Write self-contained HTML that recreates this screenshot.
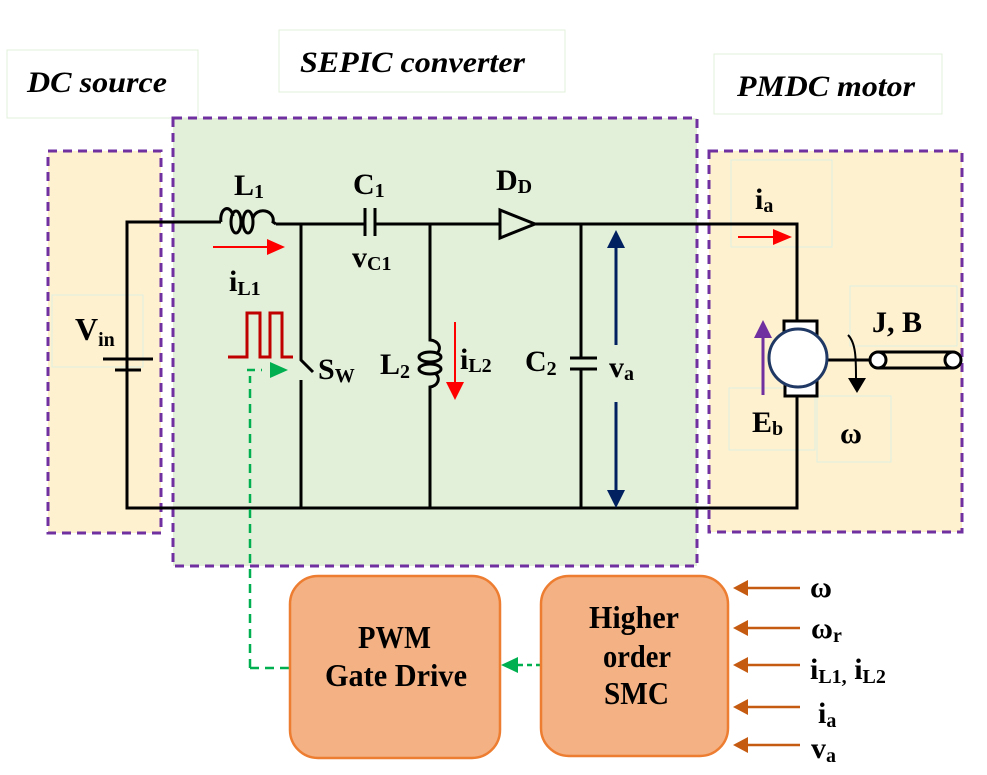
<!DOCTYPE html>
<html><head><meta charset="utf-8"><style>
html,body{margin:0;padding:0;background:#fff;}
svg{display:block;}
text{font-family:"Liberation Serif","Times New Roman",serif;font-weight:bold;fill:#000;}
</style></head><body>
<svg width="987" height="775" viewBox="0 0 987 775" xmlns="http://www.w3.org/2000/svg" font-family="Liberation Serif, serif">
<!-- label boxes -->
<rect x="7" y="50" width="191" height="68" fill="#fff" stroke="#e2efd9" stroke-width="1"/>
<rect x="279" y="30" width="286" height="62" fill="#fff" stroke="#e2efd9" stroke-width="1"/>
<rect x="714" y="54" width="228" height="60" fill="#fff" stroke="#e2efd9" stroke-width="1"/>
<text x="27" y="92" font-size="30" font-style="italic" textLength="140" lengthAdjust="spacingAndGlyphs">DC source</text>
<text x="300" y="72" font-size="30" font-style="italic" textLength="225" lengthAdjust="spacingAndGlyphs">SEPIC converter</text>
<text x="737" y="96" font-size="30" font-style="italic" textLength="178" lengthAdjust="spacingAndGlyphs">PMDC motor</text>

<!-- regions -->
<rect x="48" y="151" width="113" height="382" fill="#fef1d0" stroke="#7030a0" stroke-width="3" stroke-dasharray="9,6"/>
<rect x="173" y="118" width="524" height="448" fill="#e2efd9" stroke="#7030a0" stroke-width="3" stroke-dasharray="9,6"/>
<rect x="709" y="151" width="253" height="381" fill="#fef1d0" stroke="#7030a0" stroke-width="3" stroke-dasharray="9,6"/>

<!-- faint text boxes -->
<g fill="none" stroke="#dfeee0" stroke-width="1">
<rect x="52" y="295" width="91" height="72"/>
<rect x="731" y="160" width="101" height="87"/>
<rect x="850" y="286" width="107" height="60"/>
<rect x="729" y="388" width="86" height="62"/>
<rect x="817" y="396" width="74" height="66"/>
</g>

<g stroke="#000" stroke-width="3" fill="none">
<path d="M127,370 V222 H221"/>
<!-- L1 coil -->
<path d="M221,222 a6,10 0 0 1 12,-6"/>
<ellipse cx="236" cy="222" rx="5" ry="11"/>
<ellipse cx="248" cy="222" rx="5" ry="11"/>
<path d="M253,218 a10,9 0 0 1 20,4 L276,224"/>
<path d="M276,224 H365 M375,224 H500 M535,224 H797 V322"/>
<path d="M365,208 V236 M375,208 V236"/>
<path d="M500,210 L535,224 L500,238 Z"/>
<path d="M103,359 H153"/>
<path d="M115,370 H141"/>
<path d="M127,370 V508 H797 V396"/>
<path d="M301,224 V360 L313,372 M301,380 V508"/>
<!-- L2 -->
<path d="M430,224 V340 a10,8 0 0 1 6,14"/>
<ellipse cx="430" cy="357" rx="11" ry="5"/>
<ellipse cx="430" cy="369" rx="11" ry="5"/>
<path d="M436,374 a10,8 0 0 1 -6,13 V508"/>
<path d="M581,224 V358 M570,358 H597 M570,369 H597 M581,369 V508"/>
<rect x="784" y="321" width="33" height="14" fill="#fff"/>
<rect x="785" y="380" width="32" height="16" fill="#fff"/>
<path d="M828,360 H878"/>
<path d="M878,352 H953 M878,368 H953"/>
</g>
<circle cx="798" cy="358" r="29" fill="#fff" stroke="#1f3864" stroke-width="3"/>
<circle cx="878" cy="360" r="8" fill="#fff" stroke="#000" stroke-width="3"/>
<circle cx="953" cy="360" r="8" fill="#fff" stroke="#000" stroke-width="3"/>
<path d="M848,335 c8,8 8,24 8,44" stroke="#000" stroke-width="2" fill="none"/>
<path d="M848,378 L866,378 L857,393 Z" fill="#000"/>

<path d="M616,246 V345 M616,402 V492" stroke="#002060" stroke-width="3" fill="none"/>
<path d="M607,248 L616,230 L625,248 Z M607,490 L616,508 L625,490 Z" fill="#002060"/>

<path d="M763,395 V336" stroke="#7030a0" stroke-width="3"/>
<path d="M754,338 L763,320 L772,338 Z" fill="#7030a0"/>

<path d="M213,247 H270" stroke="#f00" stroke-width="2"/>
<path d="M267,239 L285,247 L267,255 Z" fill="#f00"/>
<path d="M738,237 H776" stroke="#f00" stroke-width="2"/>
<path d="M773,229 L792,237 L773,245 Z" fill="#f00"/>
<path d="M455,322 V385" stroke="#f00" stroke-width="2"/>
<path d="M446,382 L455,400 L464,382 Z" fill="#f00"/>

<path d="M228,357 H247 V313 H260 V357 H270 V313 H282 V357 H293" stroke="#c00000" stroke-width="3" fill="none"/>

<path d="M250,668 V376" stroke="#00b050" stroke-width="2.5" stroke-dasharray="9,6" fill="none"/>
<path d="M247,370 H262" stroke="#00b050" stroke-width="2.5" stroke-dasharray="8,6"/>
<path d="M270,362 L288,370 L270,378 Z" fill="#00b050"/>
<path d="M250,668 H290" stroke="#00b050" stroke-width="2.5" stroke-dasharray="9,6"/>
<path d="M541,665 H518" stroke="#00b050" stroke-width="2.5" stroke-dasharray="5,4"/>
<path d="M518,657 L501,665 L518,673 Z" fill="#00b050"/>

<rect x="290" y="576" width="210" height="182" rx="28" fill="#f4b183" stroke="#ed7d31" stroke-width="2.5"/>
<rect x="541" y="576" width="187" height="180" rx="28" fill="#f4b183" stroke="#ed7d31" stroke-width="2.5"/>
<text x="358" y="648" font-size="32" textLength="73" lengthAdjust="spacingAndGlyphs">PWM</text>
<text x="325" y="686" font-size="32" textLength="142" lengthAdjust="spacingAndGlyphs">Gate Drive</text>
<text x="589" y="628" font-size="32" textLength="90" lengthAdjust="spacingAndGlyphs">Higher</text>
<text x="603" y="667" font-size="32" textLength="68" lengthAdjust="spacingAndGlyphs">order</text>
<text x="604" y="704" font-size="32" textLength="65" lengthAdjust="spacingAndGlyphs">SMC</text>

<g stroke="#c55a11" stroke-width="2.5">
<path d="M800,588 H748 M800,628 H748 M800,665 H748 M800,707 H748 M800,745 H748"/>
</g>
<g fill="#c55a11">
<path d="M748,580 L733,588 L748,596Z M748,620 L733,628 L748,636Z M748,657 L733,665 L748,673Z M748,699 L733,707 L748,715Z M748,737 L733,745 L748,753Z"/>
</g>
<text x="810" y="597" font-size="30">ω</text>
<text x="811" y="638" font-size="30">ω<tspan font-size="20" dy="4">r</tspan></text>
<text x="810" y="679" font-size="30">i<tspan font-size="20" dy="4">L1,</tspan><tspan dy="-4"> i</tspan><tspan font-size="20" dy="4">L2</tspan></text>
<text x="818" y="723" font-size="30">i<tspan font-size="20" dy="4">a</tspan></text>
<text x="811" y="758" font-size="30">v<tspan font-size="20" dy="4">a</tspan></text>

<text x="75" y="340" font-size="32">V<tspan font-size="20" dy="6">in</tspan></text>
<text x="234" y="195" font-size="30">L<tspan font-size="20" dy="3">1</tspan></text>
<text x="353" y="194" font-size="30">C<tspan font-size="20" dy="3">1</tspan></text>
<text x="352" y="267" font-size="30">v<tspan font-size="20" dy="3">C1</tspan></text>
<text x="229" y="291" font-size="30">i<tspan font-size="20" dy="4">L1</tspan></text>
<text x="496" y="190" font-size="30">D<tspan font-size="20" dy="3">D</tspan></text>
<text x="318" y="379" font-size="30">S<tspan font-size="20" dy="3">W</tspan></text>
<text x="380" y="374" font-size="30">L<tspan font-size="20" dy="4">2</tspan></text>
<text x="460" y="369" font-size="30">i<tspan font-size="20" dy="3">L2</tspan></text>
<text x="525" y="371" font-size="30">C<tspan font-size="20" dy="4">2</tspan></text>
<text x="609" y="377" font-size="30">v<tspan font-size="20" dy="3">a</tspan></text>
<text x="755" y="209" font-size="30">i<tspan font-size="20" dy="3">a</tspan></text>
<text x="872" y="332" font-size="30">J, B</text>
<text x="752" y="432" font-size="30">E<tspan font-size="20" dy="3">b</tspan></text>
<text x="840" y="443" font-size="30">ω</text>
</svg>
</body></html>
